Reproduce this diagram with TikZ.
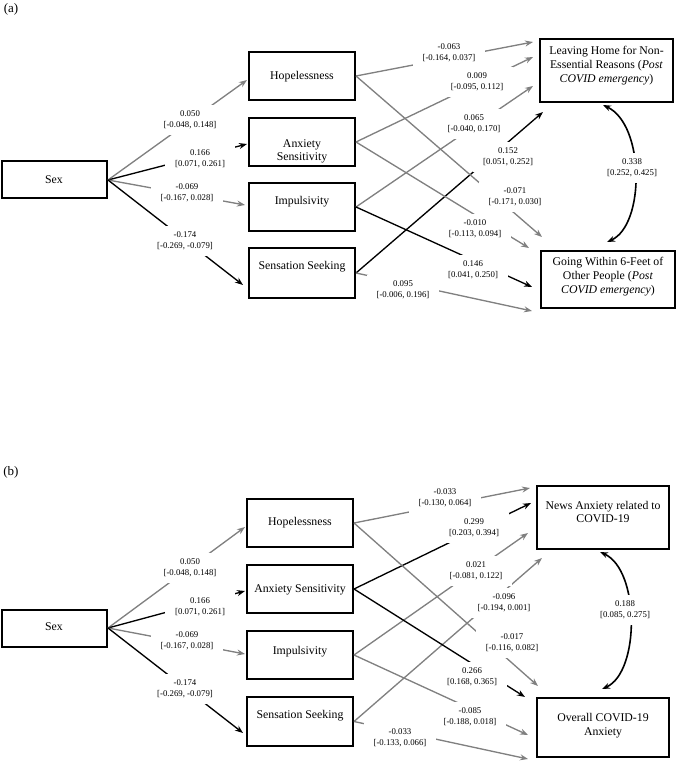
\documentclass[tikz,border=0pt]{standalone}
\usepackage{fontspec}
\setmainfont{Liberation Serif}
\usetikzlibrary{arrows.meta}
\definecolor{pathgray}{RGB}{128,128,128}
\begin{document}
\begin{tikzpicture}[x=0.75pt,y=-0.75pt,
  box/.style={draw=black, line width=1.5pt, inner sep=0pt},
  pbox/.style={box, minimum width=79.5pt, minimum height=36pt},
  sexbox/.style={box, minimum width=78.75pt, minimum height=27.75pt},
  txt/.style={font=\fontsize{8.85}{10.5}\selectfont, align=center, inner sep=0pt},
  lab/.style={fill=white, font=\fontsize{6.6}{8}\selectfont, align=center, inner xsep=7.5pt, inner ysep=4.5pt},
  gconn/.style={draw=pathgray, line width=1pt, -{Stealth[length=6pt,width=4.5pt]}},
  bconn/.style={draw=black, line width=1pt, -{Stealth[length=6pt,width=4.5pt]}},
  cov/.style={draw=black, line width=1.2pt, {Stealth[length=6pt,width=4.5pt]}-{Stealth[length=6pt,width=4.5pt]}},
  panel/.style={font=\fontsize{9.75}{11}\selectfont, inner sep=0pt}
]
\useasboundingbox (0,0) rectangle (677,762);

% ================= Panel (a) =================
\node[panel] (pa) at (11,9) {(a)};
\node[sexbox] (sexA) at (54.5,180) {};
\node[txt] (sexAt) at (54,180) {Sex};
\node[pbox] (hopA) at (302,76) {};
\node[txt] (hopAt) at (302,77) {Hopelessness};
\node[pbox] (anxA) at (302,142) {};
\node[txt, font=\fontsize{8.85}{9.75}\selectfont] (anxAt) at (302,151) {Anxiety\\Sensitivity};
\node[pbox] (impA) at (302,207) {};
\node[txt] (impAt) at (302,202) {Impulsivity};
\node[pbox, minimum height=37.5pt] (senA) at (302,273) {};
\node[txt] (senAt) at (302,267) {Sensation Seeking};
\node[box, minimum width=99.75pt, minimum height=47.25pt] (leaveA) at (606.5,70.5) {};
\node[txt] (leaveAt) at (606.5,66) {Leaving Home for Non-\\Essential Reasons (\textit{Post}\\\textit{COVID emergency})};
\node[box, minimum width=100.5pt, minimum height=42.75pt] (goA) at (608,279.5) {};
\node[txt] (goAt) at (608,277) {Going Within 6-Feet of\\Other People (\textit{Post}\\\textit{COVID emergency})};

\coordinate (aP1) at (247,80);
\coordinate (aP2) at (247,144);
\coordinate (aP3) at (245,205);
\coordinate (aP4) at (243,285);
\coordinate (aL1) at (533,42);
\coordinate (aL2) at (533,57);
\coordinate (aL3) at (533,86);
\coordinate (aL4) at (543,112);
\coordinate (aG1) at (542,237);
\coordinate (aG2) at (529,248);
\coordinate (aG3) at (532,287);
\coordinate (aG4) at (532,311);
\coordinate (aC1) at (603,105);
\coordinate (aC2) at (607,242);

\draw[gconn] (sexA.east) -- (aP1);
\draw[bconn] (sexA.east) -- (aP2);
\draw[gconn] (sexA.east) -- (aP3);
\draw[bconn] (sexA.east) -- (aP4);
\draw[gconn] (hopA.east) -- (aL1);
\draw[gconn] (anxA.east) -- (aL2);
\draw[gconn] (impA.east) -- (aL3);
\draw[bconn] (senA.east) -- (aL4);
\draw[gconn] (hopA.east) -- (aG1);
\draw[gconn] (anxA.east) -- (aG2);
\draw[bconn] (impA.east) -- (aG3);
\draw[gconn] (senA.east) -- (aG4);
\draw[cov] (aC1) .. controls (645,125) and (645,225) .. (aC2);

\node[lab] (aS1) at (190,120) {0.050\\{[-0.048, 0.148]}};
\node[lab] (aS2) at (200,159) {0.166\\{[0.071, 0.261]}};
\node[lab] (aS3) at (187,193) {-0.069\\{[-0.167, 0.028]}};
\node[lab] (aS4) at (185,241) {-0.174\\{[-0.269, -0.079]}};
\node[lab] (aR1) at (449,53) {-0.063\\{[-0.164, 0.037]}};
\node[lab] (aR2) at (477,82) {0.009\\{[-0.095, 0.112]}};
\node[lab] (aR3) at (474,124) {0.065\\{[-0.040, 0.170]}};
\node[lab] (aR4) at (508,157) {0.152\\{[0.051, 0.252]}};
\node[lab] (aR5) at (515,197) {-0.071\\{[-0.171, 0.030]}};
\node[lab] (aR6) at (475,229) {-0.010\\{[-0.113, 0.094]}};
\node[lab] (aR7) at (473,270) {0.146\\{[0.041, 0.250]}};
\node[lab] (aR8) at (403,290) {0.095\\{[-0.006, 0.196]}};
\node[lab] (aCv) at (632,168) {0.338\\{[0.252, 0.425]}};

% ================= Panel (b) =================
\node[panel] (pb) at (11,472) {(b)};
\node[sexbox] (sexB) at (54.5,628) {};
\node[txt] (sexBt) at (54,627) {Sex};
\node[pbox] (hopB) at (300,523) {};
\node[txt] (hopBt) at (300,523) {Hopelessness};
\node[pbox] (anxB) at (300,589) {};
\node[txt] (anxBt) at (300,590) {Anxiety Sensitivity};
\node[pbox] (impB) at (300,655) {};
\node[txt] (impBt) at (300,652) {Impulsivity};
\node[pbox, minimum height=37pt] (senB) at (300,721.5) {};
\node[txt] (senBt) at (300,716) {Sensation Seeking};
\node[box, minimum width=99pt, minimum height=47.25pt] (newsB) at (603,517.5) {};
\node[txt, font=\fontsize{8.85}{9.5}\selectfont] (newsBt) at (603,512) {News Anxiety related to\\COVID-19};
\node[box, minimum width=99pt, minimum height=44.25pt] (allB) at (603,727.5) {};
\node[txt] (allBt) at (603,726) {Overall COVID-19\\Anxiety};

\coordinate (bP1) at (245,527);
\coordinate (bP2) at (245,591);
\coordinate (bP3) at (245,654);
\coordinate (bP4) at (243,733);
\coordinate (bN1) at (530,488);
\coordinate (bN2) at (531,503);
\coordinate (bN3) at (528,533);
\coordinate (bN4) at (542,558);
\coordinate (bO1) at (538,686);
\coordinate (bO2) at (525,697);
\coordinate (bO3) at (528,735);
\coordinate (bO4) at (528,759);
\coordinate (bC1) at (600,552);
\coordinate (bC2) at (602,689);

\draw[gconn] (sexB.east) -- (bP1);
\draw[bconn] (sexB.east) -- (bP2);
\draw[gconn] (sexB.east) -- (bP3);
\draw[bconn] (sexB.east) -- (bP4);
\draw[gconn] (hopB.east) -- (bN1);
\draw[bconn] (anxB.east) -- (bN2);
\draw[gconn] (impB.east) -- (bN3);
\draw[gconn] (senB.east) -- (bN4);
\draw[gconn] (hopB.east) -- (bO1);
\draw[bconn] (anxB.east) -- (bO2);
\draw[gconn] (impB.east) -- (bO3);
\draw[gconn] (senB.east) -- (bO4);
\draw[cov] (bC1) .. controls (640,570) and (640,672) .. (bC2);

\node[lab] (bS1) at (190,568) {0.050\\{[-0.048, 0.148]}};
\node[lab] (bS2) at (200,607) {0.166\\{[0.071, 0.261]}};
\node[lab] (bS3) at (187,641) {-0.069\\{[-0.167, 0.028]}};
\node[lab] (bS4) at (185,689) {-0.174\\{[-0.269, -0.079]}};
\node[lab] (bR1) at (445,498) {-0.033\\{[-0.130, 0.064]}};
\node[lab] (bR2) at (474,528) {0.299\\{[0.203, 0.394]}};
\node[lab] (bR3) at (476,571) {0.021\\{[-0.081, 0.122]}};
\node[lab] (bR4) at (504,603) {-0.096\\{[-0.194, 0.001]}};
\node[lab] (bR5) at (512,643) {-0.017\\{[-0.116, 0.082]}};
\node[lab] (bR6) at (472,677) {0.266\\{[0.168, 0.365]}};
\node[lab] (bR7) at (470,717) {-0.085\\{[-0.188, 0.018]}};
\node[lab] (bR8) at (400,738) {-0.033\\{[-0.133, 0.066]}};
\node[lab] (bCv) at (625,610) {0.188\\{[0.085, 0.275]}};
\end{tikzpicture}
\end{document}
